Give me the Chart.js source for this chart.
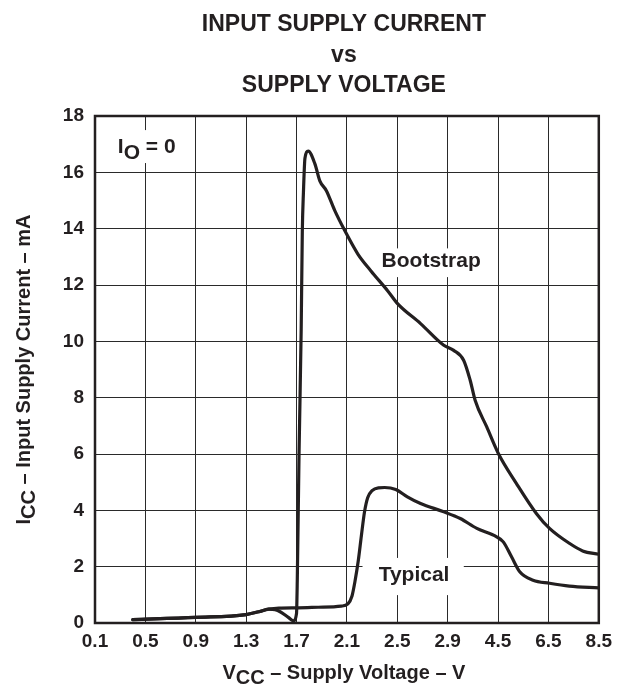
<!DOCTYPE html>
<html>
<head>
<meta charset="utf-8">
<script src="https://cdn.jsdelivr.net/npm/chart.js@4"></script>
<style>html,body{margin:0;padding:0;background:#fff}canvas{display:block}</style>
</head>
<body>
<canvas id="c" width="619" height="686"></canvas>
<script>
// ---- data ----
const xTickVolts  = [0.1, 0.5, 0.9, 1.3, 1.7, 2.1, 2.5, 2.9, 4.5, 6.5, 8.5];
const xTickLabels = ['0.1','0.5','0.9','1.3','1.7','2.1','2.5','2.9','4.5','6.5','8.5'];
const yTickLabels = ['0','2','4','6','8','10','12','14','16','18'];

const bootstrapVoltage = [0.4, 0.9, 1.3, 1.4, 1.48, 1.53, 1.57, 1.635, 1.675, 1.7, 1.706, 1.72, 1.737, 1.746, 1.755, 1.767, 1.793, 1.846, 1.885, 1.937, 2.003, 2.082, 2.187, 2.291, 2.423, 2.502, 2.685, 2.869, 3.092, 3.407, 3.615, 3.772, 4.142, 4.512, 5.232, 6.02, 6.544, 7.33, 7.858, 8.5];
const bootstrapCurrent = [0.12, 0.2, 0.3, 0.4, 0.49, 0.47, 0.4, 0.2, 0.08, 0.34, 1.5, 6, 10.4, 13.9, 15.3, 16.5, 16.75, 16.3, 15.7, 15.35, 14.65, 13.94, 13.1, 12.5, 11.8, 11.34, 10.63, 9.86, 9.68, 9.33, 8.62, 7.91, 6.96, 6.02, 4.95, 3.89, 3.36, 2.83, 2.56, 2.44];

const typicalVoltage = [0.4, 0.9, 1.3, 1.4, 1.48, 1.56, 1.714, 1.872, 2.055, 2.108, 2.14, 2.165, 2.19, 2.215, 2.24, 2.265, 2.3, 2.35, 2.4, 2.488, 2.58, 2.685, 2.869, 3.3, 3.826, 4.455, 4.708, 5.036, 5.362, 5.89, 6.544, 7.33, 8.5];
const typicalCurrent = [0.12, 0.2, 0.3, 0.4, 0.49, 0.53, 0.54, 0.56, 0.6, 0.68, 0.95, 1.5, 2.2, 3.1, 3.95, 4.45, 4.7, 4.8, 4.81, 4.74, 4.48, 4.24, 3.95, 3.71, 3.36, 3.06, 2.88, 2.35, 1.82, 1.52, 1.41, 1.31, 1.25];

// ---- helpers ----
const INK = '#231f20';
const FAMILY = "'Liberation Sans', Arial, Helvetica, sans-serif";

// map a voltage onto the (piecewise, evenly divided) x axis
function voltToPos(v) {
  for (let i = 0; i < xTickVolts.length - 1; i++) {
    const a = xTickVolts[i], b = xTickVolts[i + 1];
    if (v <= b || i === xTickVolts.length - 2) return i + (v - a) / (b - a);
  }
}
function toPoints(vs, cs) { return vs.map((v, i) => ({ x: voltToPos(v), y: cs[i] })); }

function drawRich(ctx, parts, x, y, size, align, subShift) {
  ctx.font = `bold ${size}px ${FAMILY}`;
  const widths = parts.map(p => ctx.measureText(p[0]).width);
  const total = widths.reduce((a, b) => a + b, 0);
  let cx = align === 'center' ? x - total / 2 : x;
  ctx.textAlign = 'left';
  ctx.textBaseline = 'alphabetic';
  parts.forEach((p, i) => { ctx.fillText(p[0], cx, y + (p[1] ? subShift : 0)); cx += widths[i]; });
}

// annotations in data units (x = axis division position, y = mA)
const notes = [
  { parts: [['I', 0], ['O', 1], [' = 0', 0]], x: 0.453, y: 16.68, box: [0.256, 17.5, 1.83, 16.33] },
  { parts: [['Bootstrap', 0]], x: 5.689, y: 12.65, box: [5.57, 13.3, 7.78, 12.28] },
  { parts: [['Typical', 0]], x: 5.63, y: 1.49, box: [5.31, 2.31, 7.32, 0.99] }
];

const decor = {
  id: 'decor',
  beforeDatasetsDraw(chart) {
    const { ctx, chartArea: ca, scales: { x, y } } = chart;
    ctx.save();
    ctx.fillStyle = '#fff';
    notes.forEach(n => {
      const l = x.getPixelForValue(n.box[0]), t = y.getPixelForValue(n.box[1]);
      const r = x.getPixelForValue(n.box[2]), b = y.getPixelForValue(n.box[3]);
      ctx.fillRect(l, t, r - l, b - t);
    });
    ctx.strokeStyle = INK;
    ctx.lineWidth = 2.5;
    ctx.strokeRect(ca.left, ca.top, ca.right - ca.left, ca.bottom - ca.top);
    ctx.fillStyle = INK;
    notes.forEach(n => {
      drawRich(ctx, n.parts, x.getPixelForValue(n.x), y.getPixelForValue(n.y), 21, 'left', 6);
    });
    ctx.restore();
  },
  afterDraw(chart) {
    const { ctx, chartArea: ca } = chart;
    ctx.save();
    ctx.fillStyle = INK;
    ctx.font = `bold 23px ${FAMILY}`;
    ctx.textAlign = 'center';
    ctx.textBaseline = 'alphabetic';
    const cx = (ca.left + ca.right) / 2 - 3;
    ctx.fillText('INPUT SUPPLY CURRENT', cx, 31);
    ctx.fillText('vs', cx, 62);
    ctx.fillText('SUPPLY VOLTAGE', cx, 92);
    drawRich(ctx, [['V', 0], ['CC', 1], [' \u2013 Supply Voltage \u2013 V', 0]], cx, 679, 20, 'center', 5);
    ctx.translate(29.5, (ca.top + ca.bottom) / 2);
    ctx.rotate(-Math.PI / 2);
    drawRich(ctx, [['I', 0], ['CC', 1], [' \u2013 Input Supply Current \u2013 mA', 0]], 0, 0, 20, 'center', 5);
    ctx.restore();
  }
};

new Chart(document.getElementById('c'), {
  type: 'line',
  data: {
    datasets: [
      { label: 'Bootstrap', data: toPoints(bootstrapVoltage, bootstrapCurrent) },
      { label: 'Typical', data: toPoints(typicalVoltage, typicalCurrent) }
    ]
  },
  options: {
    responsive: false,
    animation: false,
    devicePixelRatio: 1,
    layout: { padding: { top: 116, right: 16, bottom: 0, left: 0 } },
    elements: {
      line: { borderColor: INK, borderWidth: 3.2, cubicInterpolationMode: 'monotone', fill: false, borderCapStyle: 'round', borderJoinStyle: 'round' },
      point: { radius: 0, hoverRadius: 0 }
    },
    plugins: { legend: { display: false }, tooltip: { enabled: false }, title: { display: false } },
    scales: {
      x: {
        type: 'linear', min: 0, max: xTickLabels.length - 1,
        afterFit(s) { s.height = 63; },
        grid: { color: '#2a2a2a', lineWidth: 1, drawTicks: false },
        border: { display: false },
        ticks: {
          stepSize: 1, autoSkip: false, maxRotation: 0, padding: 7, color: INK,
          font: { family: FAMILY, size: 19, weight: 'bold' },
          callback: v => xTickLabels[v] ?? ''
        }
      },
      y: {
        type: 'linear', min: 0, max: 18,
        afterFit(s) { s.width = 95; },
        grid: { color: '#2a2a2a', lineWidth: 1, drawTicks: false },
        border: { display: false },
        ticks: {
          stepSize: 2, padding: 11, color: INK,
          font: { family: FAMILY, size: 19, weight: 'bold' },
          callback: v => yTickLabels[v / 2] ?? ''
        }
      }
    }
  },
  plugins: [decor]
});
</script>
</body>
</html>
